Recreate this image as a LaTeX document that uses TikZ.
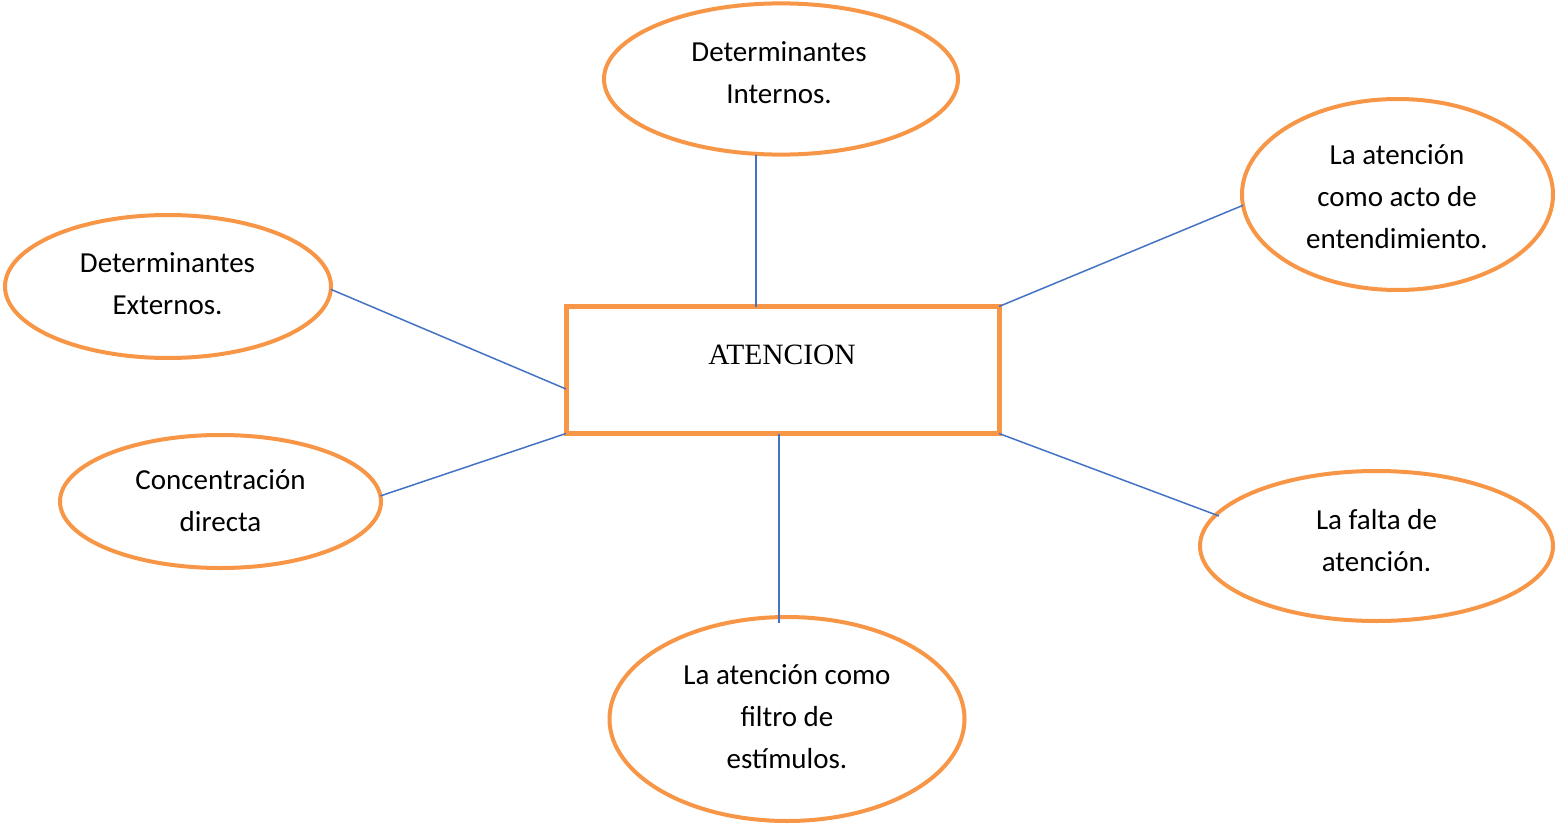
\documentclass[tikz,border=0pt]{standalone}
\usepackage{fontspec}
\setmainfont{Carlito}
\newfontfamily\timesfont{Liberation Serif}
\usetikzlibrary{shapes.geometric}
\definecolor{borde}{HTML}{F79646}
\definecolor{linea}{HTML}{4472C4}
\tikzset{
  oval/.style={ellipse, draw=borde, line width=4pt, inner sep=0pt, outer sep=0pt, fill=white},
  caja/.style={rectangle, draw=borde, line width=5pt, inner sep=0pt, outer sep=0pt, minimum width=433pt, minimum height=127pt},
  texto/.style={align=center, inner sep=0pt, font=\fontsize{29}{42}\selectfont},
  conector/.style={draw=linea, line width=1.5pt}
}
\begin{document}
\begin{tikzpicture}[x=1pt,y=-1pt]
\useasboundingbox (0,0) rectangle (1556,827);
% central box
\node[caja] (atn) at (782.5,370) {};
\node[anchor=base, inner sep=0pt, font=\timesfont\fontsize{29.5}{35}\selectfont] (atnl) at (782,364) {ATENCION};
% ellipses
\node[oval, minimum width=354pt, minimum height=151.2pt] (ti) at (781,79) {};
\node[oval, minimum width=326pt, minimum height=143pt] (ex) at (168,286.5) {};
\node[oval, minimum width=321pt, minimum height=133pt] (co) at (220.5,501.5) {};
\node[oval, minimum width=311pt, minimum height=191pt] (ac) at (1397.5,194.5) {};
\node[oval, minimum width=353pt, minimum height=150pt] (fa) at (1376.5,546) {};
\node[oval, minimum width=355pt, minimum height=204pt] (fi) at (787,719) {};
% texts
\node[texto] (til) at (779,73.6) {\strut Determinantes\\\strut Internos.};
\node[texto] (exl) at (167.5,285.1) {\strut Determinantes\\\strut Externos.};
\node[texto] (col) at (220.5,502.1) {\strut Concentración\\\strut directa};
\node[texto] (acl) at (1397,197.6) {\strut La atención\\\strut como acto de\\\strut entendimiento.};
\node[texto] (fal) at (1376.5,541.6) {\strut La falta de\\\strut atención.};
\node[texto] (fil) at (787,717.6) {\strut La atención como\\\strut filtro de\\\strut estímulos.};
% connectors
\draw[conector] ([xshift=-25pt]ti.south) -- ([xshift=-25pt]ti.south |- atn.north);
\draw[conector] (ac.184.6) -- (atn.north east);
\draw[conector] (ex.-1.6) -- ([yshift=-19pt]atn.west);
\draw[conector] (co.2.7) -- (atn.south west);
\draw[conector] (atn.south east) -- ([xshift=-157.5pt,yshift=30pt]fa.center);
\draw[conector] ([xshift=-3.5pt]atn.south) -- ([xshift=-8pt,yshift=-6pt]fi.north);
\end{tikzpicture}
\end{document}
